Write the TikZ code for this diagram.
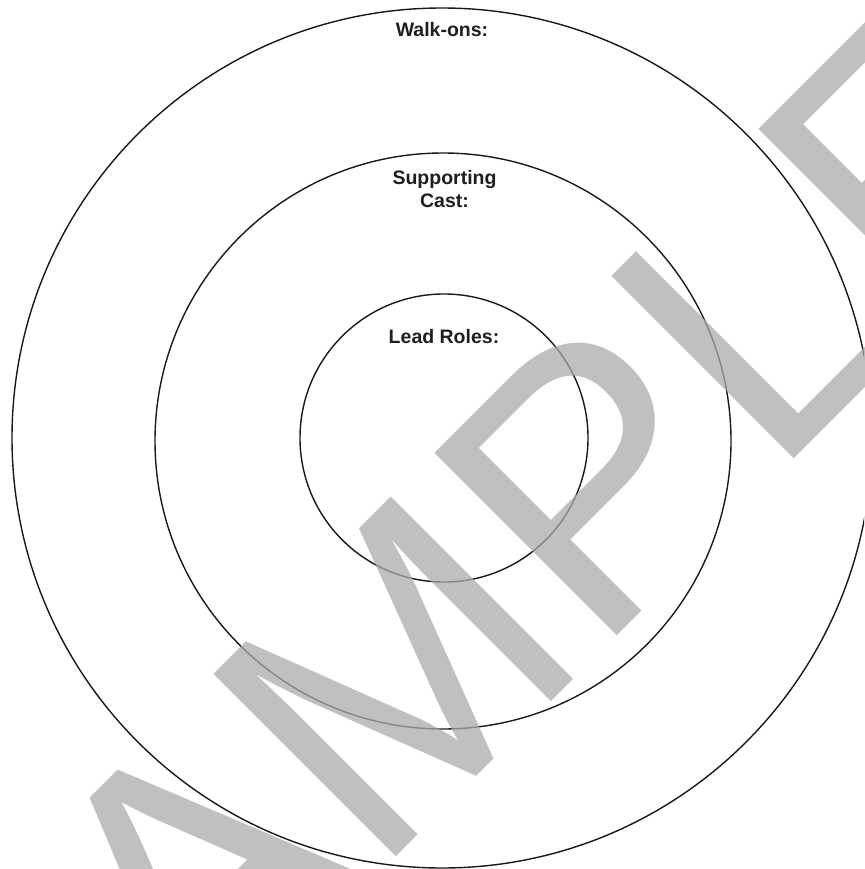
\documentclass[tikz,border=0pt]{standalone}
\usepackage{fontspec}
\setmainfont{Liberation Sans}
\begin{document}
\begin{tikzpicture}[x=1pt,y=-1pt,
  ring/.style={draw=black!90, line width=1.4pt},
  lbl/.style={font=\bfseries\fontsize{19.5}{22}\selectfont, text=black!88, inner sep=0pt, anchor=base},
  wmark/.style={font=\fontsize{375}{375}\selectfont, text=black!33, opacity=0.75, inner sep=0pt, anchor=base, rotate=45}]
\useasboundingbox (0,0) rectangle (864,869);
\clip (0,0) rectangle (864,869);
\fill[white] (0,0) rectangle (864,869);
\coordinate (co) at (442,438);
\coordinate (cm) at (443,441);
\coordinate (ci) at (444,438);
\draw[ring] (co) circle[radius=430];
\draw[ring] (cm) circle[radius=288];
\draw[ring] (ci) circle[radius=144];
\node[lbl] (walk) at (442,36.7) {Walk-ons:};
\node[lbl] (sup1) at (444.5,185) {Supporting};
\node[lbl] (sup2) at (444.5,207) {Cast:};
\node[lbl] (lead) at (444,343) {Lead Roles:};
\node[wmark] (sample) at (558.7,694.4) {SAMPLE};
\end{tikzpicture}
\end{document}
